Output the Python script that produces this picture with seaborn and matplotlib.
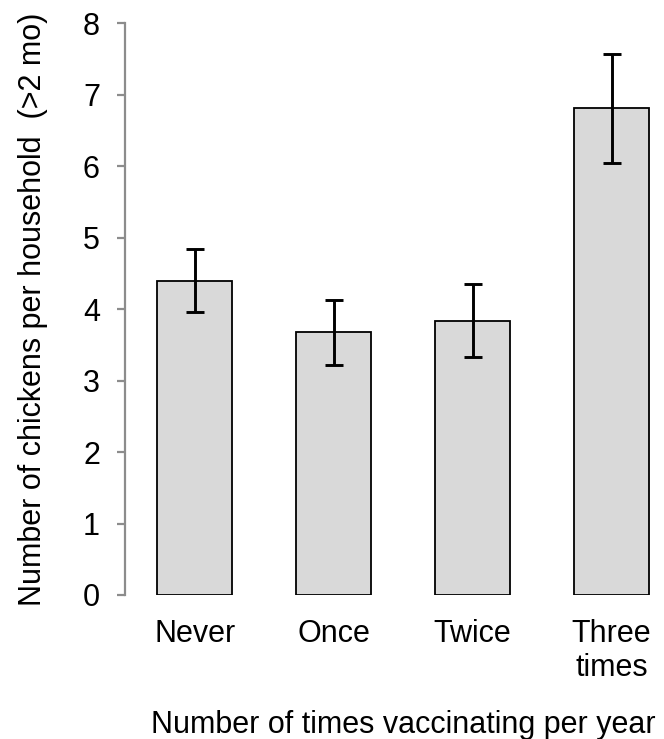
import numpy as np
import matplotlib
matplotlib.use("Agg")
import matplotlib.pyplot as plt
import seaborn as sns

# ── data ──────────────────────────────────────────────────────
categories = ["Never", "Once", "Twice", "Three\ntimes"]
means = [4.39, 3.68, 3.83, 6.81]
err_low = [3.96, 3.21, 3.33, 6.04]
err_high = [4.84, 4.13, 4.35, 7.56]

sns.set_style("white")
plt.rcParams["font.family"] = ["Liberation Sans", "DejaVu Sans"]
plt.rcParams["text.color"] = "black"
plt.rcParams["axes.labelcolor"] = "black"

fig = plt.figure(figsize=(6.64, 7.39), dpi=100)
# axes runs a little past the right edge, like the source
ax = fig.add_axes([125 / 664, 1 - 595 / 739, 556 / 664, 572 / 739])

sns.barplot(x=categories, y=means, errorbar=None, color="#d9d9d9",
            edgecolor="black", linewidth=1.3, width=0.54, saturation=1,
            ax=ax)
yerr = np.array([np.subtract(means, err_low), np.subtract(err_high, means)])
ax.errorbar(np.arange(len(categories)), means, yerr=yerr, fmt="none",
            ecolor="black", elinewidth=2.1, capsize=6.5, capthick=2.1)

ax.set_xlim(-0.504, 3.5)
ax.set_ylim(0, 8)
ax.set_yticks(range(0, 9))

for s in ["top", "right", "bottom"]:
    ax.spines[s].set_visible(False)
ax.spines["left"].set_color("#8c8c8c")
ax.spines["left"].set_linewidth(1.6)
ax.tick_params(axis="y", direction="out", length=6, width=1.6,
               color="#8c8c8c", labelcolor="black", labelsize=22, pad=12,
               left=True)
ax.tick_params(axis="x", length=0, labelsize=22, labelcolor="black", pad=17)

ax.set_ylabel("Number of chickens per household  (>2 mo)", fontsize=22,
              va="center")
ax.yaxis.set_label_coords(-92 / 556, 0.5)
ax.set_xlabel("Number of times vaccinating per year", fontsize=22,
              va="baseline")
ax.xaxis.set_label_coords(0.5, -138 / 572)

plt.savefig("out.png", dpi=100)
